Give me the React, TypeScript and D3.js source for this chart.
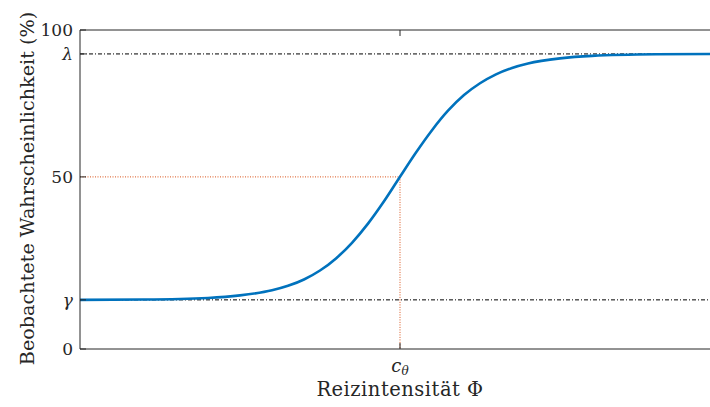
import React from "react";
import * as d3 from "d3";

// Stimulus intensity (arbitrary units) and observed probability (%)
const intensity = [0, 1, 2, 2.5, 3, 3.25, 3.5, 3.75, 4, 4.25, 4.5, 4.75, 5, 5.25, 5.5, 5.75, 6, 6.25, 6.5, 6.75, 7, 7.5, 8, 9, 10];
const probability = [15.4, 15.5, 16.0, 16.8, 18.4, 19.8, 21.8, 24.6, 28.4, 33.3, 39.3, 46.3, 54.0, 61.6, 68.6, 74.7, 79.6, 83.3, 86.1, 88.1, 89.5, 91.1, 91.9, 92.4, 92.5];

const guessRate = 15.4;   // γ
const lapseTop = 92.5;    // λ
const threshold = 5;      // c_θ
const midLevel = (guessRate + lapseTop) / 2;

const yTickValues = [0, guessRate, midLevel, lapseTop, 100];
const yTickLabels = ["0", "γ", "50", "λ", "100"];

const W = 710;
const H = 407;
const margin = { left: 80, top: 30, right: 720, bottom: 349 };

const axisColor = "#262626";
const curveColor = "#0072BD";
const guideColor = "#D95319";
const serif = { fontFamily: "\"DejaVu Serif\", serif", fontWeight: 300 };

export default function App() {
  const x = d3.scaleLinear().domain([0, 10]).range([margin.left, margin.right]);
  const y = d3.scaleLinear().domain([0, 100]).range([margin.bottom, margin.top]);

  const pts: [number, number][] = intensity.map((v, i) => [v, probability[i]]);
  const line = d3
    .line<[number, number]>()
    .x((d) => x(d[0]))
    .y((d) => y(d[1]))
    .curve(d3.curveMonotoneX);

  const x0 = margin.left;
  const x1 = margin.right;

  return (
    <svg
      width={W}
      height={H}
      style={{ position: "absolute", left: 0, top: 0, background: "#fff", overflow: "hidden" }}
    >
      <rect x={0} y={0} width={W} height={H} fill="#fff" />

      {/* reference levels γ and λ */}
      {[guessRate, lapseTop].map((v, i) => (
        <line
          key={i}
          x1={x0}
          x2={x1}
          y1={y(v)}
          y2={y(v)}
          stroke="#000"
          strokeWidth={1}
          strokeDasharray="4,2,1,2"
        />
      ))}

      {/* threshold guides */}
      <line x1={x0} x2={x(threshold)} y1={y(midLevel)} y2={y(midLevel)} stroke={guideColor} strokeWidth={1} strokeDasharray="1,1.5" />
      <line x1={x(threshold)} x2={x(threshold)} y1={y(midLevel)} y2={y(0)} stroke={guideColor} strokeWidth={1} strokeDasharray="1,1.5" />

      {/* psychometric curve */}
      <path d={line(pts) ?? ""} fill="none" stroke={curveColor} strokeWidth={2.6} />

      {/* axes box */}
      <line x1={x0} x2={x1} y1={margin.bottom} y2={margin.bottom} stroke={axisColor} strokeWidth={1} />
      <line x1={x0} x2={x1} y1={margin.top} y2={margin.top} stroke={axisColor} strokeWidth={1} />
      <line x1={x0} x2={x0} y1={margin.top} y2={margin.bottom} stroke={axisColor} strokeWidth={1} />

      {/* y ticks */}
      {yTickValues.map((v, i) => (
        <g key={i}>
          <line x1={x0} x2={x0 + 6} y1={y(v)} y2={y(v)} stroke={axisColor} strokeWidth={1} />
          <text
            x={x0 - 7}
            y={y(v)}
            dy="0.36em"
            textAnchor="end"
            fontSize={17}
            fill={axisColor}
            style={{ ...serif, fontStyle: i === 1 || i === 3 ? "italic" : "normal" }}
          >
            {yTickLabels[i]}
          </text>
        </g>
      ))}

      {/* x tick at threshold */}
      <line x1={x(threshold)} x2={x(threshold)} y1={margin.bottom} y2={margin.bottom - 6} stroke={axisColor} strokeWidth={1} />
      <line x1={x(threshold)} x2={x(threshold)} y1={margin.top} y2={margin.top + 6} stroke={axisColor} strokeWidth={1} />
      <text x={x(threshold)} y={372} textAnchor="middle" fontSize={18} fill={axisColor} style={{ ...serif, fontStyle: "italic" }}>
        c<tspan fontSize={12} dy={3}>θ</tspan>
      </text>

      {/* axis titles */}
      <text
        x={x(threshold)}
        y={396}
        textAnchor="middle"
        fontSize={19.5}
        fill={axisColor}
        style={{ ...serif, letterSpacing: "0.5px" }}
      >
        Reizintensität Φ
      </text>
      <text
        transform={`translate(34, ${(margin.top + margin.bottom) / 2 - 1}) rotate(-90)`}
        textAnchor="middle"
        fontSize={19.2}
        fill={axisColor}
        style={serif}
      >
        Beobachtete Wahrscheinlichkeit (%)
      </text>
    </svg>
  );
}
